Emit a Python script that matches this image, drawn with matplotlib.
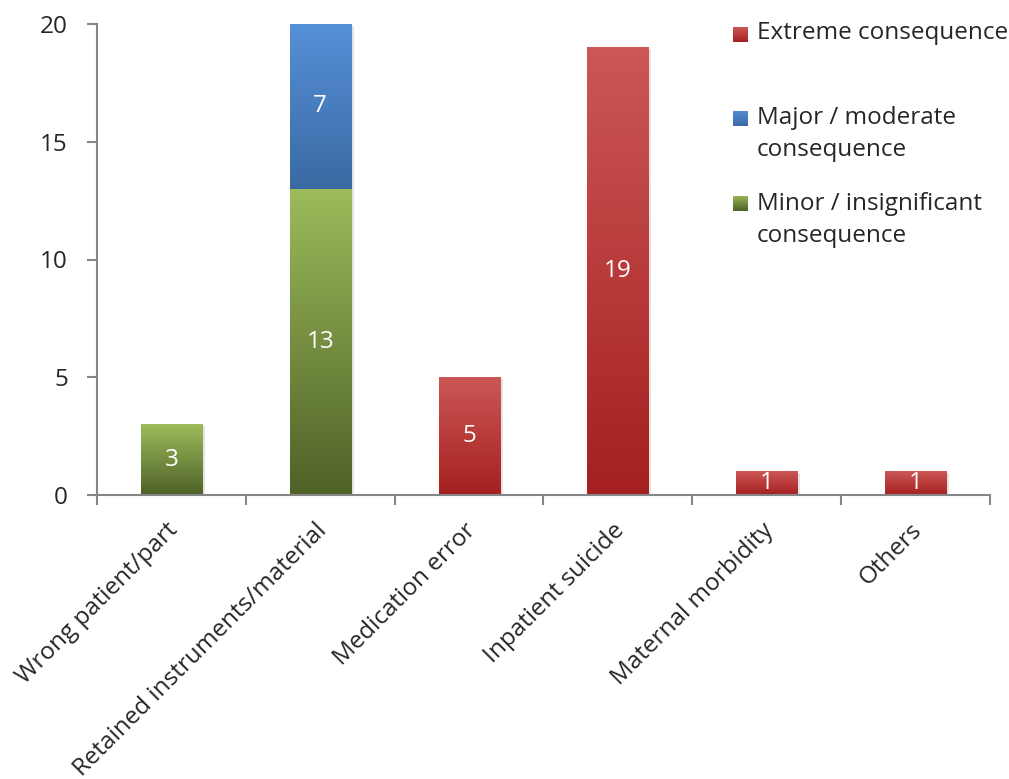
import numpy as np
import matplotlib
matplotlib.use('Agg')
import matplotlib.pyplot as plt
from matplotlib.colors import LinearSegmentedColormap
from matplotlib.patches import Rectangle
from matplotlib.transforms import offset_copy

categories = ['Wrong patient/part', 'Retained instruments/material', 'Medication error',
              'Inpatient suicide', 'Maternal morbidity', 'Others']
minor = [3, 13, 0, 0, 0, 0]
major = [0, 7, 0, 0, 0, 0]
extreme = [0, 0, 5, 19, 1, 1]

series = [
    ('Minor / insignificant\nconsequence', minor, ('#4e6127', '#9dbc5b')),
    ('Major / moderate\nconsequence', major, ('#3a6aa3', '#5690d8')),
    ('Extreme consequence', extreme, ('#a51f20', '#cb5855')),
]

FS = 17.5
plt.rcParams['font.family'] = ['Open Sans', 'DejaVu Sans']
W, H = 1009, 779
fig = plt.figure(figsize=(W / 100, H / 100), dpi=100)
ax = fig.add_axes([97 / W, 1 - 495 / H, (990 - 97) / W, (495 - 24) / H])

bar_w = 0.41
grad = np.linspace(0, 1, 256).reshape(-1, 1)
bottom = np.zeros(len(categories))
for name, vals, (c_low, c_high) in series:
    cmap = LinearSegmentedColormap.from_list(name, [c_low, c_high])
    for i, v in enumerate(vals):
        if v == 0:
            continue
        y0 = bottom[i]
        # soft drop shadow behind each segment
        shadow = Rectangle((i - bar_w / 2 + 0.02, y0 - 0.08), bar_w, v,
                           facecolor='#b0b0b0', alpha=0.35, edgecolor='none', zorder=1)
        ax.add_patch(shadow)
        ax.imshow(grad, cmap=cmap, origin='lower', aspect='auto', zorder=2,
                  extent=[i - bar_w / 2, i + bar_w / 2, y0, y0 + v])
        ax.text(i, y0 + v / 2, str(v), color='white', fontsize=FS,
                ha='center', va='center', zorder=3)
    bottom += np.array(vals)

ax.set_xlim(-0.5, len(categories) - 0.5)
ax.set_ylim(0, 20)
ax.set_yticks([0, 5, 10, 15, 20])
ax.set_xticks(np.arange(len(categories) + 1) - 0.5)
ax.set_xticklabels([])
ax.tick_params(axis='both', colors='#868686', length=7, width=1.5, direction='out')
ax.tick_params(axis='y', labelcolor='#262626', labelsize=FS, pad=14)
for side in ['top', 'right']:
    ax.spines[side].set_visible(False)
for side in ['left', 'bottom']:
    ax.spines[side].set_color('#868686')
    ax.spines[side].set_linewidth(1.5)

# rotated category labels, ending just below each bar
label_tr = offset_copy(ax.get_xaxis_transform(), fig=fig, x=3, y=-32, units='dots')
for i, cat in enumerate(categories):
    ax.text(i, 0, cat, transform=label_tr, rotation=45, rotation_mode='anchor',
            ha='right', va='center', fontsize=FS, color='#262626')

# legend on the right
legend_rows = [
    ('Extreme consequence', series[2][2], 33, 34),
    ('Major / moderate\nconsequence', series[1][2], 134, 118),
    ('Minor / insignificant\nconsequence', series[0][2], 220, 203),
]
for text, (c_low, c_high), ty, sy in legend_rows:
    fig.text(757 / W, 1 - ty / H, text, fontsize=FS, color='#262626',
             ha='left', va='center', linespacing=1.45)
    sq = fig.add_axes([733 / W, 1 - (sy + 8) / H, 15 / W, 15 / H])
    sq.imshow(grad, cmap=LinearSegmentedColormap.from_list('sq', [c_low, c_high]),
              origin='lower', aspect='auto')
    sq.axis('off')

fig.savefig('out.png', dpi=100)
